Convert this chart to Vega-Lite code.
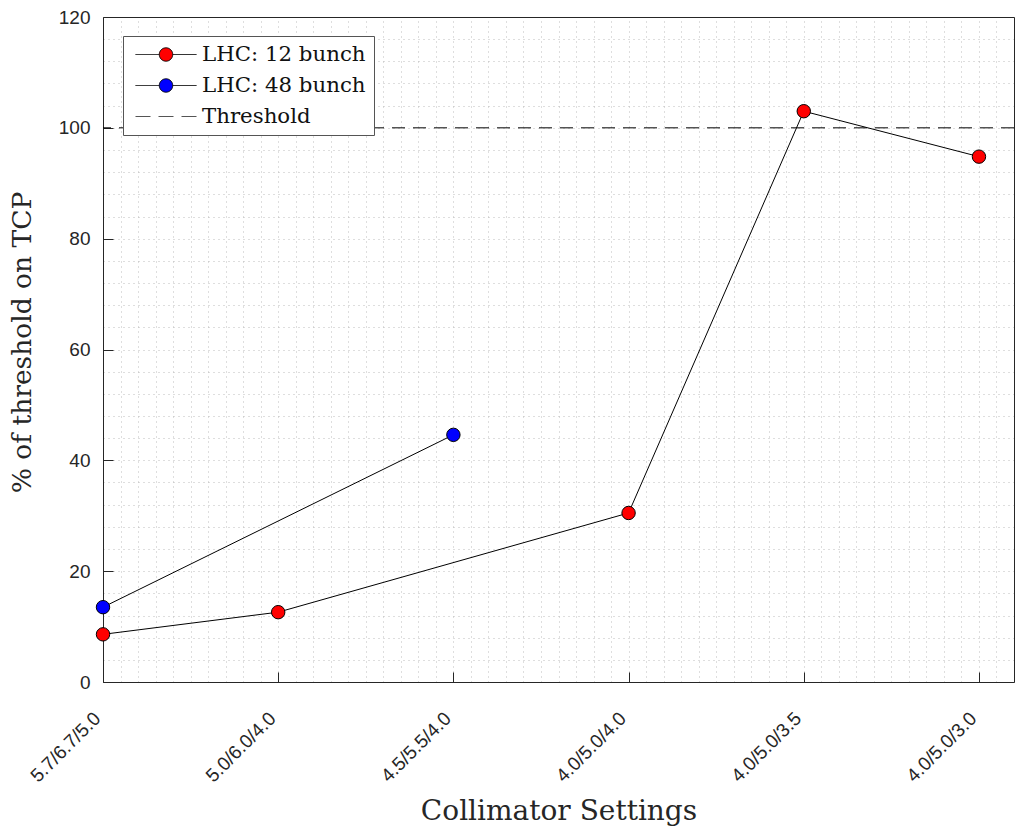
{
  "$schema": "https://vega.github.io/schema/vega-lite/v6.json",
  "width": 911,
  "height": 665,
  "autosize": "none",
  "padding": {"left": 103, "top": 17, "right": 3, "bottom": 149},
  "background": "white",
  "config": {"view": {"stroke": null}},
  "datasets": {
    "pts": [
      {"series": "LHC: 12 bunch", "x": 1, "y": 8.6},
      {"series": "LHC: 12 bunch", "x": 2, "y": 12.6},
      {"series": "LHC: 12 bunch", "x": 4, "y": 30.5},
      {"series": "LHC: 12 bunch", "x": 5, "y": 103.0},
      {"series": "LHC: 12 bunch", "x": 6, "y": 94.8},
      {"series": "LHC: 48 bunch", "x": 1, "y": 13.5},
      {"series": "LHC: 48 bunch", "x": 3, "y": 44.6}
    ],
    "thr": [
      {"series": "Threshold", "y": 100}
    ]
  },
  "layer": [
    {
      "data": {"name": "pts"},
      "mark": {"type": "line", "color": "black", "strokeWidth": 1},
      "encoding": {
        "x": {
          "field": "x", "type": "quantitative",
          "scale": {"domain": [1, 6.2], "nice": false, "zero": false},
          "axis": {
            "orient": "bottom",
            "values": [1, 2, 3, 4, 5, 6],
            "labelExpr": "['5.7/6.7/5.0','5.0/6.0/4.0','4.5/5.5/4.0','4.0/5.0/4.0','4.0/5.0/3.5','4.0/5.0/3.0'][datum.value-1]",
            "labelAngle": -45,
            "labelAlign": "right",
            "labelBaseline": "middle",
            "labelFont": "Liberation Sans",
            "labelFontSize": 19,
            "labelColor": "#262626",
            "labelPadding": 43,
            "labelOffset": -6,
            "labelLimit": 300,
            "tickSize": -10,
            "tickColor": "#262626",
            "domainColor": "#262626",
            "grid": false,
            "title": "Collimator Settings",
            "titleFont": "DejaVu Serif",
            "titleFontSize": 28,
            "titleFontWeight": "normal",
            "titleColor": "#262626",
            "titlePadding": 12
          }
        },
        "y": {
          "field": "y", "type": "quantitative",
          "scale": {"domain": [0, 120], "nice": false},
          "axis": {
            "orient": "left",
            "values": [0, 20, 40, 60, 80, 100, 120],
            "labelFont": "Liberation Sans",
            "labelFontSize": 19,
            "labelColor": "#262626",
            "labelPadding": 23,
            "tickSize": -10,
            "tickColor": "#262626",
            "domainColor": "#262626",
            "grid": false,
            "title": "% of threshold on TCP",
            "titleFont": "DejaVu Serif",
            "titleFontSize": 26.5,
            "titleFontWeight": "normal",
            "titleColor": "#262626",
            "titlePadding": 22,
            "titleY": 325
          }
        },
        "detail": {"field": "series"}
      }
    },
    {
      "data": {"name": "pts"},
      "mark": {"type": "point", "shape": "circle", "filled": true, "size": 180, "stroke": "black", "strokeWidth": 1, "opacity": 1},
      "encoding": {
        "x": {
          "field": "x", "type": "quantitative",
          "axis": {
            "orient": "top",
            "values": [1.0,1.1,1.2,1.3,1.4,1.5,1.6,1.7,1.8,1.9,2.0,2.1,2.2,2.3,2.4,2.5,2.6,2.7,2.8,2.9,3.0,3.1,3.2,3.3,3.4,3.5,3.6,3.7,3.8,3.9,4.0,4.1,4.2,4.3,4.4,4.5,4.6,4.7,4.8,4.9,5.0,5.1,5.2,5.3,5.4,5.5,5.6,5.7,5.8,5.9,6.0,6.1,6.2],
            "labels": false,
            "ticks": false,
            "title": null,
            "domainColor": "#262626",
            "grid": true,
            "gridColor": "#bcbcbc",
            "gridDash": [1, 4],
            "gridWidth": 1
          }
        },
        "y": {
          "field": "y", "type": "quantitative",
          "axis": {
            "orient": "right",
            "values": [0,4,8,12,16,20,24,28,32,36,40,44,48,52,56,60,64,68,72,76,80,84,88,92,96,100,104,108,112,116,120],
            "labels": false,
            "ticks": false,
            "title": null,
            "domainColor": "#262626",
            "grid": true,
            "gridColor": "#bcbcbc",
            "gridDash": [1, 4],
            "gridWidth": 1
          }
        },
        "fill": {
          "field": "series", "type": "nominal",
          "scale": {"domain": ["LHC: 12 bunch", "LHC: 48 bunch", "Threshold"], "range": ["#ff0000", "#0000ff", "#000000"]},
          "legend": {
            "title": null,
            "orient": "none",
            "legendX": 20,
            "legendY": 19,
            "direction": "vertical",
            "fillColor": "white",
            "strokeColor": "#555555",
            "padding": 7.5,
            "symbolSize": 3721,
            "symbolStrokeWidth": 1,
            "clipHeight": 22,
            "labelFont": "DejaVu Serif",
            "labelFontSize": 21.3,
            "labelColor": "#111111",
            "labelOffset": 5,
            "labelLimit": 400,
            "rowPadding": 9,
            "symbolOffset": 4.5,
            "encoding": {
              "symbols": {
                "shape": {"value": {"expr": "datum.value === 'Threshold' ? 'M-1,0H1' : 'M-1,0H-0.22M0.22,0H1M-0.22,0A0.22,0.22 0 1,1 0.22,0A0.22,0.22 0 1,1 -0.22,0Z'"}},
                "strokeDash": {"value": {"expr": "datum.value === 'Threshold' ? [15,8] : [1,0]"}},
                "stroke": {"value": {"expr": "datum.value === 'Threshold' ? '#555555' : 'black'"}},
                "strokeWidth": {"value": 1},
                "opacity": {"value": 1}
              }
            }
          }
        }
      }
    },
    {
      "data": {"name": "thr"},
      "mark": {"type": "rule", "color": "black", "strokeWidth": 1, "strokeDash": [13, 8]},
      "encoding": {"y": {"field": "y", "type": "quantitative", "axis": null}}
    }
  ],
  "resolve": {"axis": {"x": "independent", "y": "independent"}}
}
